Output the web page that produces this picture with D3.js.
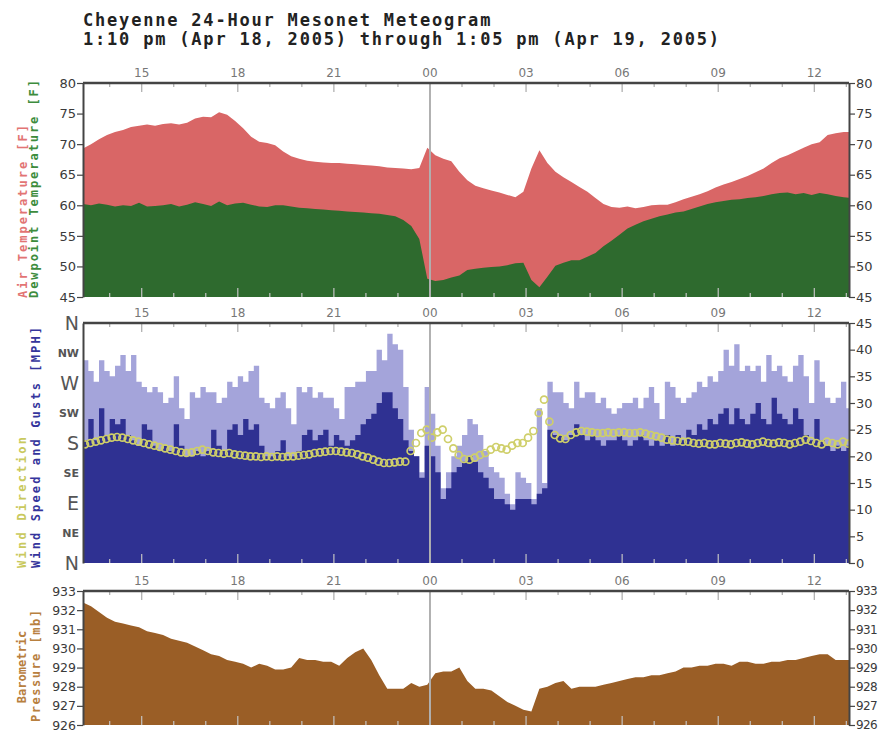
<!DOCTYPE html>
<html>
<head>
<meta charset="utf-8">
<script src="https://cdn.jsdelivr.net/npm/d3@7"></script>
<style>
  body { margin: 0; background: #fff; }
  svg { display: block; }
</style>
</head>
<body>
<svg id="chart"></svg>
<script>
// time range of the meteogram
const startTime = new Date(2005, 3, 18, 13, 10);
const endTime = new Date(2005, 3, 19, 13, 5);

// 15-minute samples from 13:10
const airTemp = [
  69.3, 70, 70.8, 71.5, 72, 72.3, 72.8, 73, 73.2, 73, 73.3, 73.4,
  73.2, 73.5, 74.2, 74.5, 74.4, 75.2, 74.8, 73.8, 72.6, 71.2, 70.4, 70.2,
  69.8, 68.8, 68, 67.6, 67.3, 67.1, 67, 66.9, 66.9, 66.8, 66.7, 66.6,
  66.5, 66.4, 66.2, 66.1, 66, 65.9, 66.1, 69.4, 68.2, 67.6, 67.2, 65.5,
  64.1, 63.2, 62.8, 62.4, 62.1, 61.7, 61.3, 62.2, 66, 69, 66.9, 65.5,
  64.6, 63.8, 63, 62.2, 61.2, 60.2, 59.7, 59.6, 59.8, 59.5, 59.7, 60,
  60.1, 60.1, 60.5, 61, 61.4, 61.8, 62.3, 62.9, 63.4, 63.8, 64.3, 64.8,
  65.4, 66, 66.9, 67.7, 68.2, 68.8, 69.4, 70, 70.3, 71.5, 71.8, 72, 72
];
const dewPoint = [
  60.2, 60, 60.3, 60.1, 59.8, 60, 59.9, 60.4, 59.8, 59.9, 60, 60.2,
  59.8, 60.1, 60.5, 60.2, 59.9, 60.6, 60, 60.3, 60.4, 60.1, 59.8, 59.7,
  60, 60, 59.8, 59.6, 59.5, 59.4, 59.3, 59.2, 59.1, 59, 58.9, 58.8,
  58.7, 58.6, 58.4, 58.2, 57.6, 56.6, 54.5, 48, 47.6, 47.8, 48.2, 48.5,
  49.4, 49.6, 49.8, 49.9, 50, 50.2, 50.5, 50.6, 47.8, 46.6, 48.3, 50.1,
  50.6, 51, 51, 51.6, 52.2, 53.3, 54.2, 55.2, 56.2, 56.8, 57.4, 57.8,
  58.2, 58.5, 58.8, 59, 59.4, 59.8, 60.2, 60.5, 60.7, 60.9, 61, 61.2,
  61.3, 61.5, 61.8, 62, 62.1, 61.8, 62, 61.7, 62, 61.8, 61.5, 61.3, 61.2
];
const pressure = [
  932.4, 932.2, 931.9, 931.6, 931.4, 931.3, 931.2, 931.1, 930.9, 930.8, 930.7, 930.5,
  930.4, 930.3, 930.1, 929.9, 929.7, 929.6, 929.4, 929.3, 929.2, 929.0, 929.2, 929.1,
  928.9, 928.9, 929.0, 929.5, 929.4, 929.4, 929.3, 929.3, 929.1, 929.5, 929.8, 930.0,
  929.4, 928.6, 927.9, 927.9, 927.9, 928.2, 928.0, 928.1, 928.7, 928.8, 928.8, 929.0,
  928.3, 927.9, 927.9, 927.8, 927.5, 927.2, 927.0, 926.8, 926.7, 927.9, 928.0, 928.2,
  928.3, 927.9, 928.0, 928.0, 928.0, 928.1, 928.2, 928.3, 928.4, 928.5, 928.5, 928.6,
  928.6, 928.7, 928.8, 929.0, 929.0, 929.1, 929.1, 929.2, 929.2, 929.1, 929.3, 929.3,
  929.2, 929.2, 929.3, 929.3, 929.4, 929.4, 929.5, 929.6, 929.7, 929.7, 929.4, 929.4, 929.4
];

// 10-minute samples from 13:10
const windSpeed = [
  23, 27, 23, 29, 24, 27, 26, 27, 24, 23,
  22, 26, 25, 22, 21, 22, 21, 26, 22, 20,
  20, 21, 20, 21, 25, 22, 21, 25, 26, 24,
  27, 25, 26, 22, 20, 20, 21, 23, 20, 20,
  21, 24, 25, 23, 24, 25, 22, 24, 23, 22,
  23, 24, 26, 27, 28, 30, 32, 32, 29, 27,
  23, 21, 20, 16, 22, 20, 17, 12, 14, 17,
  18, 19, 20, 19, 17, 16, 14, 12, 12, 11,
  10, 12, 12, 12, 11, 13, 14, 25, 24, 24,
  23, 24, 26, 24, 23, 24, 23, 22, 23, 23,
  24, 23, 22, 23, 24, 23, 22, 23, 22, 24,
  22, 24, 23, 25, 24, 26, 25, 27, 26, 28,
  29, 26, 29, 27, 26, 28, 30, 27, 26, 31,
  28, 27, 26, 29, 27, 24, 23, 27, 23, 22,
  21, 22, 21, 22, 22
];
const windGust = [
  38, 36, 34, 38, 36, 35, 37, 39, 36, 39,
  34, 33, 32, 33, 32, 30, 31, 35, 29, 27,
  32, 31, 33, 32, 32, 30, 31, 34, 33, 35,
  34, 36, 37, 31, 30, 29, 31, 32, 29, 26,
  33, 32, 33, 31, 32, 31, 31, 29, 27, 33,
  33, 34, 34, 36, 36, 40, 38, 43, 41, 40,
  33, 25, 20, 17, 33, 28, 22, 14, 17, 20,
  22, 24, 27, 26, 24, 21, 18, 17, 16, 13,
  11, 17, 16, 15, 12, 29, 15, 34, 32, 32,
  30, 29, 34, 31, 32, 32, 30, 31, 29, 28,
  29, 30, 30, 31, 29, 31, 33, 30, 27, 34,
  33, 31, 30, 31, 32, 34, 33, 35, 34, 36,
  40, 37, 41, 36, 37, 36, 37, 34, 39, 36,
  37, 35, 34, 37, 39, 35, 30, 38, 34, 31,
  30, 31, 34, 29, 29
];
const windDir = [
  178, 180, 182, 184, 186, 188, 189, 188, 186, 184,
  182, 180, 178, 176, 174, 172, 170, 168, 166, 165,
  166, 168, 170, 168, 166, 165, 164, 165, 163, 162,
  161, 160, 160, 159, 160, 159, 160, 159, 160, 160,
  161, 162, 163, 165, 166, 167, 168, 168, 167, 166,
  165, 163, 160, 158, 155, 152, 150, 150, 151, 152,
  152, 168, 180, 195, 200, 188, 196, 200, 186, 172,
  162, 156, 155, 158, 162, 165, 170, 174, 172, 170,
  176, 180, 180, 188, 198, 225, 245, 212, 192, 187,
  186, 192, 196, 198, 197, 196, 195, 195, 196, 195,
  196, 196, 195, 195, 196, 194, 192, 190, 188, 185,
  184, 183, 182, 182, 180, 179, 180, 178, 178, 180,
  179, 178, 180, 181, 179, 178, 180, 182, 180, 179,
  181, 180, 178, 180, 182, 185, 183, 180, 178, 182,
  180, 178, 182, 179, 180
];

// axis ticks
const tempTicks = [45, 50, 55, 60, 65, 70, 75, 80];
const speedTicks = [0, 5, 10, 15, 20, 25, 30, 35, 40, 45];
const pressureTicks = [926, 927, 928, 929, 930, 931, 932, 933];
const dirTicks = [0, 45, 90, 135, 180, 225, 270, 315, 360];
const dirLabels = ["N", "NE", "E", "SE", "S", "SW", "W", "NW", "N"];

const svg = d3.select("#chart").attr("width", 885).attr("height", 732);

const X0 = 83, X1 = 849;
const x = d3.scaleTime().domain([startTime, endTime]).range([X0, X1]);

const toSeries = (arr, step) => arr.map((v, i) => ({ t: d3.timeMinute.offset(startTime, i * step), v }));

const temp = toSeries(airTemp, 15);
const dew = toSeries(dewPoint, 15);
const pres = toSeries(pressure, 15);
const speed = toSeries(windSpeed, 10);
const gust = toSeries(windGust, 10);
const dir = toSeries(windDir, 10);

const axisFont = "DejaVu Sans, sans-serif";
const monoFont = "DejaVu Sans Mono, monospace";

// title
svg.append("text").attr("x", 83).attr("y", 26)
  .attr("font-family", monoFont).attr("font-weight", "bold").attr("font-size", 17)
  .attr("letter-spacing", 1.8).attr("fill", "#222")
  .text("Cheyenne 24-Hour Mesonet Meteogram");
svg.append("text").attr("x", 83).attr("y", 45)
  .attr("font-family", monoFont).attr("font-weight", "bold").attr("font-size", 17)
  .attr("letter-spacing", 1.8).attr("fill", "#222")
  .text("1:10 pm (Apr 18, 2005) through 1:05 pm (Apr 19, 2005)");

function makeClip(id, top, bottom) {
  svg.append("clipPath").attr("id", id)
    .append("rect").attr("x", X0).attr("y", top).attr("width", X1 - X0).attr("height", bottom - top);
  return svg.append("g").attr("clip-path", `url(#${id})`);
}

// hour ticks, midnight line, top border and hour labels
function frame(top, bottom) {
  const g = svg.append("g");
  const hours = x.ticks(d3.timeHour.every(1));
  hours.forEach(d => {
    const major = d.getHours() % 3 === 0;
    const len = major ? 9 : 4;
    g.append("line").attr("x1", x(d)).attr("x2", x(d)).attr("y1", top).attr("y2", top + len)
      .attr("stroke", "#aaa").attr("stroke-width", 1.2);
    g.append("line").attr("x1", x(d)).attr("x2", x(d)).attr("y1", bottom).attr("y2", bottom - len)
      .attr("stroke", "#c4c4c4").attr("stroke-width", 1.2);
  });
  const midnight = d3.timeDay.ceil(startTime);
  g.append("line").attr("x1", x(midnight)).attr("x2", x(midnight)).attr("y1", top).attr("y2", bottom)
    .attr("stroke", "#b0b0b0").attr("stroke-width", 2);
  g.append("line").attr("x1", X0).attr("x2", X1).attr("y1", top).attr("y2", top)
    .attr("stroke", "#444").attr("stroke-width", 2.5);

  const fmt = d3.timeFormat("%H");
  svg.append("g").selectAll("text")
    .data(x.ticks(d3.timeHour.every(3)))
    .join("text")
    .attr("x", d => x(d)).attr("y", top - 6)
    .attr("text-anchor", "middle")
    .attr("font-family", axisFont).attr("font-size", 12).attr("fill", "#777")
    .text(d => fmt(d));
}

function styleAxis(a, size) {
  a.select(".domain").attr("stroke", "#444").attr("stroke-width", 2);
  a.selectAll(".tick line").attr("stroke", "#444").attr("stroke-width", 1.2);
  a.selectAll(".tick text").attr("font-family", axisFont).attr("font-size", size).attr("fill", "#3a3a3a");
}

function leftAxis(y, ticks, fmt, size) {
  const a = svg.append("g").attr("transform", `translate(${X0},0)`)
    .call(d3.axisLeft(y).tickValues(ticks).tickSize(fmt ? 0 : 6).tickSizeOuter(0)
      .tickPadding(fmt ? 4 : 1).tickFormat(fmt || (d => d)));
  styleAxis(a, size);
  return a;
}

function rightAxis(y, ticks, size) {
  const a = svg.append("g").attr("transform", `translate(${X1},0)`)
    .call(d3.axisRight(y).tickValues(ticks).tickSize(6).tickSizeOuter(0).tickPadding(1)
      .tickFormat(d => d));
  styleAxis(a, size);
  return a;
}

function vlabel(text, xb, y, anchor, color, len) {
  const t = svg.append("text")
    .attr("transform", `translate(${xb},${y}) rotate(-90)`)
    .attr("text-anchor", anchor)
    .attr("font-family", monoFont).attr("font-weight", "bold").attr("font-size", 12)
    .attr("fill", color)
    .text(text);
  if (len) t.attr("textLength", len).attr("lengthAdjust", "spacing");
}

// ---------- temperature panel ----------
const tTop = 83, tBot = 297;
const yT = d3.scaleLinear().domain([45, 80]).range([tBot, tTop]);
const gT = makeClip("clipT", tTop, tBot);
const areaT = d3.area().x(d => x(d.t)).y0(tBot).y1(d => yT(d.v));
gT.append("path").datum(temp).attr("d", areaT).attr("fill", "#d96666");
gT.append("path").datum(dew).attr("d", areaT).attr("fill", "#2e6a2e");
frame(tTop, tBot);
leftAxis(yT, tempTicks, null, 13);
rightAxis(yT, tempTicks, 13);
vlabel("Air Temperature [F]", 27, 298, "start", "#e27474", 173);
vlabel("Dewpoint Temperature [F]", 38, 298, "start", "#3d8c3d", 218);

// ---------- wind panel ----------
const wTop = 323, wBot = 563;
const yS = d3.scaleLinear().domain([0, 45]).range([wBot, wTop]);
const yD = d3.scaleLinear().domain([0, 360]).range([wBot, wTop]);
const gW = makeClip("clipW", wTop, wBot);
const areaW = d3.area().curve(d3.curveStepAfter).x(d => x(d.t)).y0(wBot).y1(d => yS(d.v));
gW.append("path").datum(gust).attr("d", areaW).attr("fill", "#a4a4da");
gW.append("path").datum(speed).attr("d", areaW).attr("fill", "#2f3192");
gW.selectAll("circle").data(dir).join("circle")
  .attr("cx", d => x(d.t) + 2).attr("cy", d => yD(d.v)).attr("r", 3.5)
  .attr("fill", "none").attr("stroke", "#cfcf6a").attr("stroke-width", 1.7);
frame(wTop, wBot);
const dirAxis = leftAxis(yD, dirTicks, (d, i) => dirLabels[i], 13);
dirAxis.selectAll(".tick text")
  .attr("font-size", (d, i) => i % 2 === 0 ? 19 : 11)
  .attr("font-weight", (d, i) => i % 2 === 0 ? "normal" : "bold")
  .attr("fill", "#555");
rightAxis(yS, speedTicks, 13);
vlabel("Wind Direction", 26, 568, "start", "#c9c95e", 131);
vlabel("Wind Speed and Gusts [MPH]", 40, 568, "start", "#35359c", 241);

// ---------- pressure panel ----------
const pTop = 591, pBot = 725;
const yP = d3.scaleLinear().domain([926, 933]).range([pBot, pTop]);
const gP = makeClip("clipP", pTop, pBot);
const areaP = d3.area().x(d => x(d.t)).y0(pBot).y1(d => yP(d.v));
gP.append("path").datum(pres).attr("d", areaP).attr("fill", "#9a5e26");
frame(pTop, pBot);
leftAxis(yP, pressureTicks, null, 12.5);
rightAxis(yP, pressureTicks, 12)
  .selectAll(".tick text").attr("letter-spacing", -0.6);
vlabel("Barometric", 26, 667, "middle", "#b8803f");
vlabel("Pressure [mb]", 40, 666, "middle", "#b8803f", 112);
</script>
</body>
</html>
